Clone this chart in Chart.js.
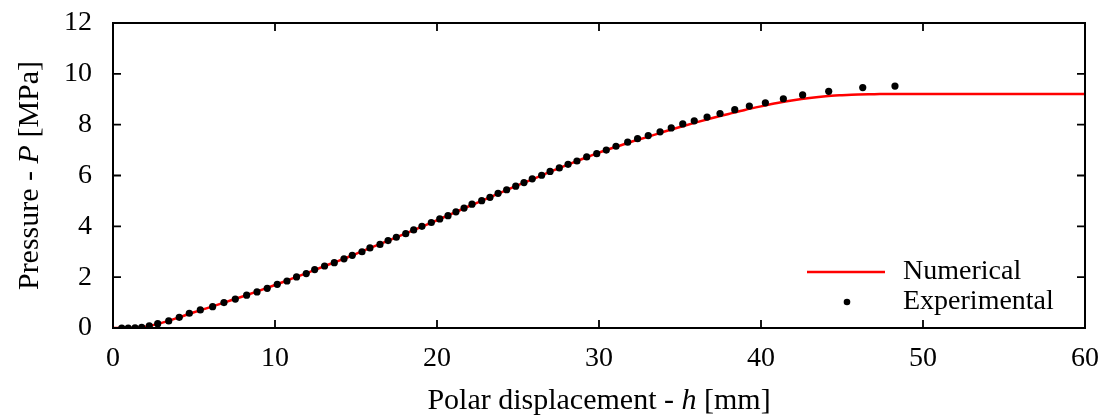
<!DOCTYPE html>
<html>
<head>
<meta charset="utf-8">
<script src="https://cdn.jsdelivr.net/npm/chart.js@4/dist/chart.umd.min.js"></script>
<style>
  html, body { margin: 0; padding: 0; background: #fff; }
  #wrap { width: 1113px; height: 416px; }
</style>
</head>
<body>
<div id="wrap"><canvas id="grafico"></canvas></div>
<script>
// datos
const hExp = [0.54, 0.94, 1.36, 1.77, 2.24, 2.76, 3.44, 4.09, 4.71, 5.39,
  6.15, 6.85, 7.55, 8.25, 8.89, 9.52, 10.14, 10.74, 11.33, 11.93,
  12.45, 13.06, 13.66, 14.26, 14.77, 15.37, 15.86, 16.48, 16.98, 17.49,
  18.07, 18.56, 19.07, 19.65, 20.17, 20.68, 21.17, 21.67, 22.16, 22.76,
  23.27, 23.77, 24.3, 24.86, 25.37, 25.88, 26.46, 26.98, 27.55, 28.09,
  28.64, 29.24, 29.86, 30.45, 31.05, 31.77, 32.38, 33.04, 33.77, 34.46,
  35.17, 35.88, 36.67, 37.47, 38.38, 39.28, 40.27, 41.38, 42.57, 44.18,
  46.28, 48.27]
const pExp = [0, 0, 0.01, 0.03, 0.08, 0.17, 0.28, 0.42, 0.58, 0.71,
  0.84, 1.0, 1.14, 1.29, 1.42, 1.56, 1.72, 1.85, 2.01, 2.14,
  2.3, 2.44, 2.57, 2.72, 2.86, 3.0, 3.15, 3.29, 3.44, 3.57,
  3.71, 3.86, 4.0, 4.15, 4.29, 4.42, 4.57, 4.72, 4.87, 5.01,
  5.14, 5.3, 5.44, 5.58, 5.72, 5.87, 6.01, 6.16, 6.3, 6.44,
  6.57, 6.73, 6.86, 7.0, 7.15, 7.31, 7.45, 7.57, 7.72, 7.87,
  8.03, 8.15, 8.30, 8.44, 8.59, 8.73, 8.86, 9.02, 9.17, 9.31,
  9.46, 9.52]
const hNum = [0, 1, 2, 3, 4, 5, 6, 7, 8, 9, 10, 11, 12, 13, 14, 15, 16, 17, 18, 19,
  20, 21, 22, 23, 24, 25, 26, 27, 28, 29, 30, 31, 32, 33, 34, 35, 36, 37, 38, 39,
  40, 41, 42, 43, 44, 45, 46, 47, 48, 60]
const pNum = [0, 0, 0.05, 0.2, 0.4, 0.62, 0.82, 1.03, 1.24, 1.46, 1.69, 1.93, 2.17, 2.42, 2.66, 2.92, 3.18, 3.44, 3.7, 3.97,
  4.24, 4.52, 4.8, 5.07, 5.35, 5.62, 5.88, 6.15, 6.41, 6.66, 6.9, 7.12, 7.33, 7.52, 7.72, 7.91, 8.09, 8.26, 8.42, 8.58,
  8.72, 8.85, 8.96, 9.05, 9.12, 9.16, 9.19, 9.2, 9.21, 9.21]
const xTicks = [0, 10, 20, 30, 40, 50, 60]
const yTicks = [0, 2, 4, 6, 8, 10, 12]

const fuente = "'Liberation Serif', serif"
const tamano = 28 // ticks y leyenda
const tamanoTitulo = 30

//###Plugin: marco, ticks hacia dentro, titulos y leyenda
const marco = {
  id: 'marco',
  afterDraw(chart) {
    const c = chart.ctx
    const a = chart.chartArea
    const sx = chart.scales.x, sy = chart.scales.y
    c.save()
    c.strokeStyle = '#000'
    c.lineWidth = 2
    c.strokeRect(a.left, a.top, a.right - a.left, a.bottom - a.top)
    c.lineWidth = 1.8
    c.beginPath()
    xTicks.forEach(v => {
      const px = sx.getPixelForValue(v)
      c.moveTo(px, a.bottom); c.lineTo(px, a.bottom - 8)
      c.moveTo(px, a.top); c.lineTo(px, a.top + 8)
    })
    yTicks.forEach(v => {
      const py = sy.getPixelForValue(v)
      c.moveTo(a.left, py); c.lineTo(a.left + 8, py)
      c.moveTo(a.right, py); c.lineTo(a.right - 8, py)
    })
    c.stroke()

    // titulo eje x con h en cursiva
    c.fillStyle = '#000'
    c.textBaseline = 'middle'
    dibujarPartes(c, [['Polar displacement - ', ''], ['h', 'italic '], [' [mm]', '']], (a.left + a.right) / 2, 401)
    // titulo eje y rotado con P en cursiva
    c.save()
    c.translate(30, (a.top + a.bottom) / 2)
    c.rotate(-Math.PI / 2)
    dibujarPartes(c, [['Pressure - ', ''], ['P', 'italic '], [' [MPa]', '']], 0, 0)
    c.restore()

    // leyenda
    const ds0 = chart.data.datasets[1], ds1 = chart.data.datasets[0]
    c.strokeStyle = ds0.borderColor
    c.lineWidth = 2.5
    c.beginPath(); c.moveTo(807, 272); c.lineTo(885, 272); c.stroke()
    c.fillStyle = ds1.pointBackgroundColor
    c.beginPath(); c.arc(847, 302, 3.3, 0, Math.PI * 2); c.fill()
    c.fillStyle = '#000'
    c.textAlign = 'left'
    c.font = tamano + 'px ' + fuente
    c.fillText(ds0.label, 903, 272)
    c.fillText(ds1.label, 903, 302)
    c.restore()
  }
}

function dibujarPartes(c, partes, cx, cy) {
  let total = 0
  partes.forEach(p => { c.font = p[1] + tamanoTitulo + 'px ' + fuente; total += c.measureText(p[0]).width })
  let x = cx - total / 2
  c.textAlign = 'left'
  partes.forEach(p => {
    c.font = p[1] + tamanoTitulo + 'px ' + fuente
    c.fillText(p[0], x, cy)
    x += c.measureText(p[0]).width
  })
}

const ctx = document.getElementById('grafico').getContext('2d')
const grafico = new Chart(ctx, {
  type: 'scatter',
  data: {
    datasets: [{
      label: 'Experimental',
      data: hExp.map((h, i) => ({ x: h, y: pExp[i] })),
      showLine: false,
      pointRadius: 3.6,
      pointBackgroundColor: '#000',
      pointBorderWidth: 0,
      order: 0
    }, {
      label: 'Numerical',
      data: hNum.map((h, i) => ({ x: h, y: pNum[i] })),
      showLine: true,
      borderColor: '#ff0000',
      borderWidth: 2.5,
      pointRadius: 0,
      cubicInterpolationMode: 'monotone',
      order: 1
    }]
  },
  plugins: [marco],
  options: {
    responsive: true,
    maintainAspectRatio: false,
    animation: false,
    layout: { padding: { top: 23, right: 28, left: 0, bottom: 0 } },
    plugins: { legend: { display: false }, tooltip: { enabled: false } },
    scales: {
      x: {
        type: 'linear', min: 0, max: 60,
        afterBuildTicks: s => { s.ticks = xTicks.map(v => ({ value: v })) },
        afterFit: s => { s.height = 88; s.paddingLeft = 0; s.paddingRight = 0 },
        grid: { display: false },
        border: { display: false },
        ticks: { color: '#000', font: { family: fuente, size: tamano }, padding: 6, maxRotation: 0 }
      },
      y: {
        type: 'linear', min: 0, max: 12,
        afterBuildTicks: s => { s.ticks = yTicks.map(v => ({ value: v })) },
        afterFit: s => { s.width = 113; s.paddingTop = 0; s.paddingBottom = 0 },
        grid: { display: false },
        border: { display: false },
        ticks: { color: '#000', font: { family: fuente, size: tamano }, padding: 13 }
      }
    }
  }
})
</script>
</body>
</html>
